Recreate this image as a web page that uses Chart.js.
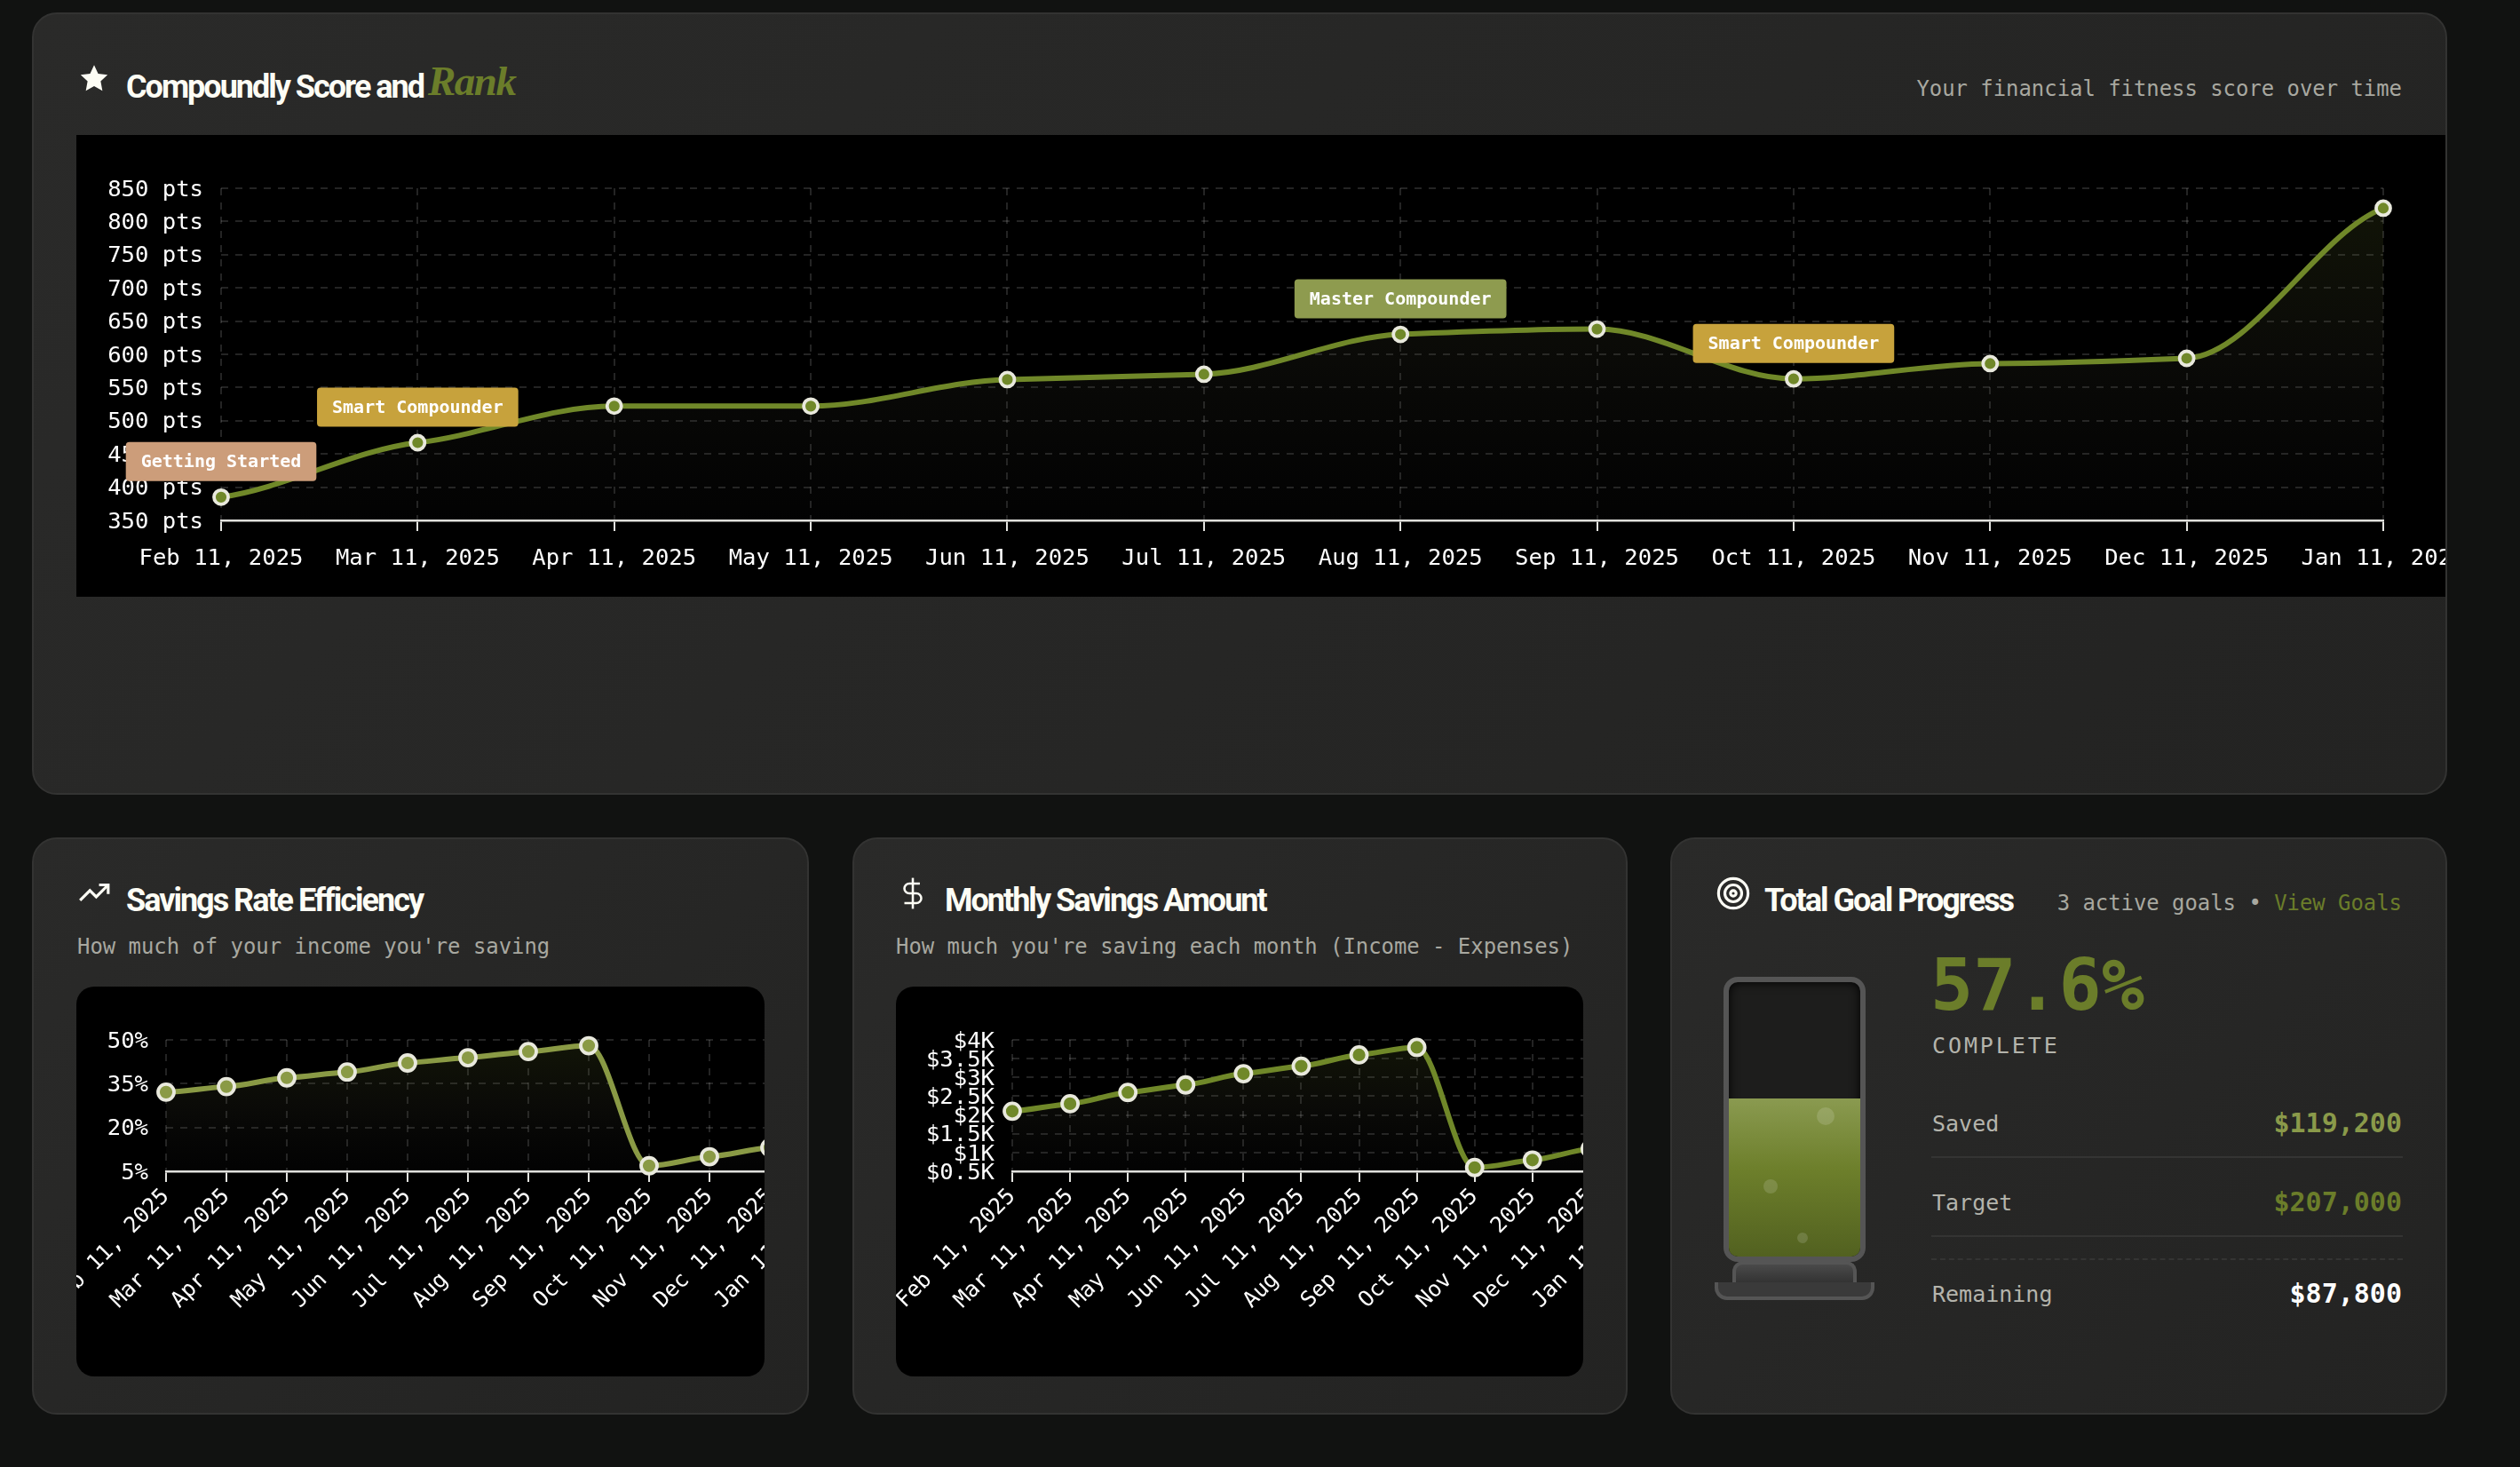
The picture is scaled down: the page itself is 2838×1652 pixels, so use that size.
<!DOCTYPE html>
<html>
<head>
<meta charset="utf-8">
<title>Compoundly dashboard</title>
<script src="https://cdn.jsdelivr.net/npm/chart.js@4"></script>
<style>
  html, body { margin: 0; padding: 0; width: 2838px; height: 1652px; overflow: hidden; background: #111211; }
  body { position: relative; font-family: "DejaVu Sans Mono", monospace; color: #fff; }
  .abs { position: absolute; white-space: nowrap; line-height: 1; }
  .card { position: absolute; box-sizing: border-box; border: 2px solid #333332; border-radius: 28px;
          background: linear-gradient(135deg, #2a2a29, #232322); }
  .plot { position: absolute; overflow: hidden; background: #000; }
  .plot canvas { position: absolute; left: 0; top: 0; display: block; }
  .title { font-family: Roboto, sans-serif; font-weight: 700; font-size: 36px; letter-spacing: -2px; color: #fdfdf5; }
  .rank { font-family: "Liberation Serif", serif; font-style: italic; font-weight: 700; font-size: 47px; letter-spacing: -1.5px; color: #6b7d2a; }
  .sub { font-size: 23.9px; color: #a8a8a0; }
  .row-label { font-size: 25px; color: #b4b4ac; }
  .row-value { font-size: 30px; font-weight: 700; }
  .line { position: absolute; left: 2175px; width: 531px; height: 0; border-top: 2px solid #343433; }
  .tube { position: absolute; box-sizing: border-box; left: 1941px; top: 1100px; width: 160px; height: 321px; border: 6px solid #555;
          border-radius: 16px; background: #1d1d1c; overflow: hidden; box-shadow: inset 0 0 12px #000; }
  .liquid { position: absolute; left: 0; right: 0; bottom: 0; height: 178px; background: linear-gradient(#8a9a50, #6d7f2b 45%, #526120); }
  .bubble { position: absolute; border-radius: 50%; background: rgba(255,255,255,0.14); }
</style>
</head>
<body>

<div class="card" style="left:36px;top:14px;width:2720px;height:881px"></div>
<div class="card" style="left:36px;top:943px;width:875px;height:650px"></div>
<div class="card" style="left:960px;top:943px;width:873px;height:650px"></div>
<div class="card" style="left:1881px;top:943px;width:875px;height:650px"></div>

<!-- score card -->
<svg class="abs" style="left:89px;top:71px" width="34" height="34" viewBox="0 0 24 24" fill="#fdfdf5"><path d="M12 1.5l3.2 6.9 7.5.9-5.5 5.2 1.4 7.5L12 18.4l-6.6 3.6 1.4-7.5L1.3 9.3l7.5-.9z"/></svg>
<div class="abs title" style="left:142px;top:80px">Compoundly Score and</div>
<div class="abs rank" style="left:482px;top:68px">Rank</div>
<div class="abs sub" style="right:133px;top:89px">Your financial fitness score over time</div>
<div class="plot" style="left:86px;top:152px;width:2668px;height:520px"><canvas id="scoreChart" width="2800" height="520"></canvas></div>

<!-- savings rate card -->
<svg class="abs" style="left:87px;top:987px" width="38" height="38" viewBox="0 0 24 24" fill="none" stroke="#fdfdf5" stroke-width="2"><path d="M2 17l7-7 4.5 4.5L22 6"/><path d="M15.5 6H22v6.5"/></svg>
<div class="abs title" style="left:142px;top:996px">Savings Rate Efficiency</div>
<div class="abs sub" style="left:87px;top:1055px">How much of your income you're saving</div>
<div class="plot" style="left:86px;top:1111px;width:775px;height:439px;border-radius:20px"><canvas id="rateChart" width="900" height="439"></canvas></div>

<!-- monthly savings card -->
<svg class="abs" style="left:1009px;top:987px" width="38" height="38" viewBox="0 0 24 24" fill="none" stroke="#fdfdf5" stroke-width="1.6"><path d="M12 1v22"/><path d="M17 5H9.5a3.5 3.5 0 0 0 0 7h5a3.5 3.5 0 0 1 0 7H6"/></svg>
<div class="abs title" style="left:1064px;top:996px">Monthly Savings Amount</div>
<div class="abs sub" style="left:1009px;top:1055px">How much you're saving each month (Income - Expenses)</div>
<div class="plot" style="left:1009px;top:1111px;width:774px;height:439px;border-radius:20px"><canvas id="savingsChart" width="900" height="439"></canvas></div>

<!-- goal card -->
<svg class="abs" style="left:1933px;top:987px" width="38" height="38" viewBox="0 0 24 24" fill="none" stroke="#fdfdf5" stroke-width="2"><circle cx="12" cy="12" r="10.5"/><circle cx="12" cy="12" r="6"/><circle cx="12" cy="12" r="2"/></svg>
<div class="abs title" style="left:1987px;top:996px">Total Goal Progress</div>
<div class="abs sub" style="right:133px;top:1006px">3 active goals • <span style="color:#6b7d2a">View Goals</span></div>

<div class="tube"><div class="liquid">
  <div class="bubble" style="left:99px;top:10px;width:20px;height:20px"></div>
  <div class="bubble" style="left:39px;top:91px;width:16px;height:16px"></div>
  <div class="bubble" style="left:77px;top:151px;width:12px;height:12px"></div>
</div></div>
<div class="abs" style="left:1951px;top:1420px;width:140px;height:24px;box-sizing:border-box;border:4px solid #555;border-bottom:0;border-radius:12px 12px 0 0;background:linear-gradient(#4a4a4a,#333)"></div>
<div class="abs" style="left:1931px;top:1444px;width:180px;height:20px;box-sizing:border-box;border:4px solid #555;border-top:0;border-radius:0 0 14px 14px;background:#3a3a3a"></div>

<div class="abs" style="left:2174px;top:1070px;font-size:80px;font-weight:700;color:#6b7d2a">57.6%</div>
<div class="abs" style="left:2176px;top:1165px;font-size:25px;letter-spacing:2.9px;color:#b4b4ac">COMPLETE</div>

<div class="abs row-label" style="left:2176px;top:1253px">Saved</div>
<div class="abs row-value" style="right:133px;top:1250px;color:#8a9a4a">$119,200</div>
<div class="line" style="top:1302px"></div>
<div class="abs row-label" style="left:2176px;top:1342px">Target</div>
<div class="abs row-value" style="right:133px;top:1339px;color:#6b7d2a">$207,000</div>
<div class="line" style="top:1391px"></div>
<div class="line" style="top:1417px;border-top:2px dashed #343433"></div>
<div class="abs row-label" style="left:2176px;top:1445px">Remaining</div>
<div class="abs row-value" style="right:133px;top:1442px;color:#fff">$87,800</div>

<script>
const months = ['Feb 11, 2025', 'Mar 11, 2025', 'Apr 11, 2025', 'May 11, 2025', 'Jun 11, 2025', 'Jul 11, 2025',
    'Aug 11, 2025', 'Sep 11, 2025', 'Oct 11, 2025', 'Nov 11, 2025', 'Dec 11, 2025', 'Jan 11, 2026'];

const scoreValues = [385, 467, 522, 522, 562, 570, 630, 638, 563, 586, 594, 820];
const scoreTicks = [350, 400, 450, 500, 550, 600, 650, 700, 750, 800, 850];
const rankIndexes = [0, 1, 6, 8];
const rankLabels = ['Getting Started', 'Smart Compounder', 'Master Compounder', 'Smart Compounder'];

const rateValues = [32.1, 34, 37, 39, 42.1, 43.9, 46, 48, 6.9, 10, 13.1, 16];
const rateTicks = [5, 20, 35, 50];

const savingsValues = [2.1, 2.3, 2.6, 2.8, 3.1, 3.3, 3.6, 3.8, 0.6, 0.8, 1.1, 1.4];
const savingsTicks = [0.5, 1, 1.5, 2, 2.5, 3, 3.5, 4];

const rankColors = {
    'Getting Started': '#cc9d7a',
    'Smart Compounder': '#c7a23c',
    'Master Compounder': '#8e9b4f'
};

Chart.defaults.font.family = '"DejaVu Sans Mono", monospace';
Chart.defaults.color = '#fff';

const rankBadges = {
    id: 'rankBadges',
    afterDatasetsDraw(chart) {
        const ctx = chart.ctx;
        const points = chart.getDatasetMeta(0).data;
        ctx.save();
        ctx.font = 'bold 20px "DejaVu Sans Mono", monospace';
        ctx.textAlign = 'center';
        ctx.textBaseline = 'middle';
        rankIndexes.forEach(function(index, i) {
            const label = rankLabels[i];
            const boxWidth = ctx.measureText(label).width + 34;
            const x = points[index].x;
            const y = points[index].y - 18 - 44;
            ctx.fillStyle = rankColors[label];
            ctx.beginPath();
            ctx.roundRect(x - boxWidth / 2, y, boxWidth, 44, 4);
            ctx.fill();
            ctx.fillStyle = '#fff';
            ctx.fillText(label, x, y + 23);
        });
        ctx.restore();
    }
};

// the curve in the picture leaves each point flatter than plain monotone does
const flattenCurve = {
    id: 'flattenCurve',
    afterDatasetsUpdate(chart) {
        const line = chart.getDatasetMeta(0).dataset;
        line.updateControlPoints(chart.chartArea, 'x');
        line.points.forEach(function(p) {
            p.cp1y = p.y + (p.cp1y - p.y) * 0.5;
            p.cp2y = p.y + (p.cp2y - p.y) * 0.5;
        });
    }
};

function gerarGrafico(id, valores, ticks, formatTick, layout) {
    const ctx = document.getElementById(id).getContext('2d');

    return new Chart(ctx, {
        type: 'line',
        data: {
            labels: months,
            datasets: [{
                data: valores,
                borderColor: layout.color,
                borderWidth: 6,
                cubicInterpolationMode: 'monotone',
                pointRadius: layout.pointRadius,
                pointBorderWidth: 3.8,
                pointBackgroundColor: layout.color,
                pointBorderColor: '#e9e9dd',
                clip: false,
                fill: true,
                backgroundColor: function(context) {
                    const area = context.chart.chartArea;
                    if (!area) return 'transparent';
                    const gradient = context.chart.ctx.createLinearGradient(0, area.top, 0, area.bottom);
                    gradient.addColorStop(0, 'rgba(107,125,42,0.17)');
                    gradient.addColorStop(0.5, 'rgba(70,70,50,0.15)');
                    gradient.addColorStop(1, 'rgba(50,50,50,0.05)');
                    return gradient;
                }
            }]
        },
        plugins: [flattenCurve].concat(layout.plugins || []),
        options: {
            responsive: false,
            animation: false,
            layout: { padding: { top: layout.top, right: layout.right, bottom: 0, left: 0 } },
            plugins: { legend: { display: false }, tooltip: { enabled: false } },
            scales: {
                x: {
                    afterFit(scale) {
                        scale.height = layout.xHeight;
                        scale.paddingLeft = 0;
                        scale.paddingRight = 0;
                    },
                    border: { color: '#e4e4e0', width: 2.5, dash: [8, 8] },
                    grid: { color: 'rgba(255,255,255,0.14)', lineWidth: 2, tickColor: '#e4e4e0', tickWidth: 2, tickLength: 12, tickBorderDash: [] },
                    ticks: { autoSkip: false, minRotation: layout.rotation, maxRotation: layout.rotation, padding: layout.xPadding, font: { size: layout.xFont } }
                },
                y: {
                    min: ticks[0],
                    max: ticks[ticks.length - 1],
                    afterBuildTicks(scale) {
                        scale.ticks = ticks.map(value => ({ value: value }));
                    },
                    afterFit(scale) {
                        scale.width = layout.yWidth;
                    },
                    border: { display: false, dash: [8, 8] },
                    grid: { color: 'rgba(255,255,255,0.14)', lineWidth: 2, drawTicks: false },
                    ticks: { autoSkip: false, padding: 20, labelOffset: 2, font: { size: 25.6 }, callback: formatTick }
                }
            }
        }
    });
}

gerarGrafico('scoreChart', scoreValues, scoreTicks, v => `${v} pts`, {
    color: '#708829', top: 60, right: 202, xHeight: 86, yWidth: 163, rotation: 0, xPadding: 16, xFont: 25.6, pointRadius: 8, plugins: [rankBadges]
});
gerarGrafico('rateChart', rateValues, rateTicks, v => `${v}%`, {
    color: '#8a9a45', top: 60, right: 51, xHeight: 231, yWidth: 101, rotation: 45, xPadding: 2, xFont: 24.6, pointRadius: 9
});
gerarGrafico('savingsChart', savingsValues, savingsTicks, v => `$${v}K`, {
    color: '#708829', top: 60, right: 53, xHeight: 231, yWidth: 131, rotation: 45, xPadding: 2, xFont: 24.6, pointRadius: 9
});
</script>
</body>
</html>
